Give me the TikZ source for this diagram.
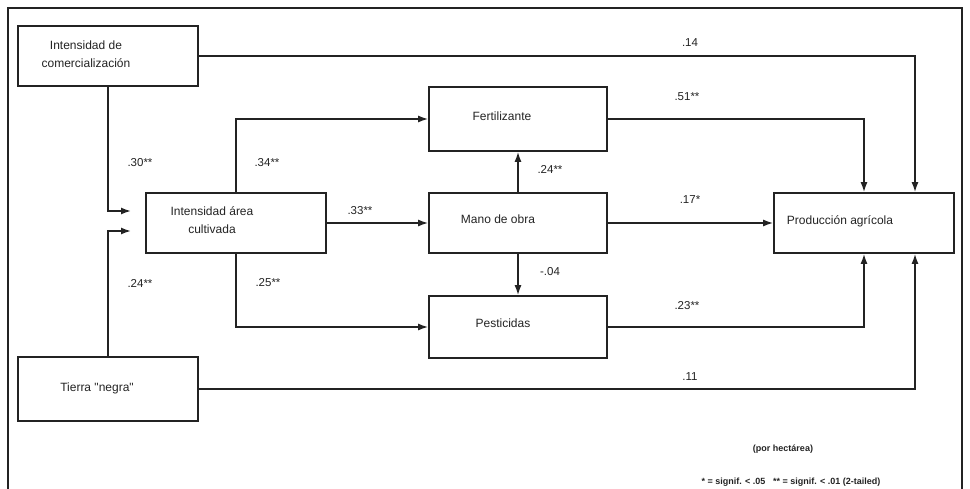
\documentclass[tikz,border=0pt]{standalone}
\usepackage{fontspec}
\setmainfont{Liberation Sans}[Ligatures=TeXOff]
\usetikzlibrary{arrows.meta}
\definecolor{ink}{RGB}{35,35,35}
\begin{document}
\begin{tikzpicture}[x=1pt,y=-1pt,
  box/.style={draw=ink,line width=1.6pt,minimum width=#1,inner sep=0pt},
  txt/.style={font=\fontsize{12}{18}\selectfont,text=ink,inner sep=0pt,align=center},
  coef/.style={font=\fontsize{11.5}{14}\selectfont,text=ink,inner sep=0pt},
  note/.style={font=\fontsize{9}{11}\bfseries\selectfont,text=ink,inner sep=0pt},
  arr/.style={draw=ink,line width=1.6pt,-{Latex[length=10pt,width=7pt]}},
  frame/.style={draw=ink,line width=2.4pt}]
\useasboundingbox (0,0) rectangle (970,489);
\draw[frame] (8,489) -- (8,8) -- (962,8) -- (962,489);
% boxes
\node[box=180pt,minimum height=60pt] (com) at (108,56) {};
\node[box=180pt,minimum height=60pt] (ia) at (236,223) {};
\node[box=178pt,minimum height=64pt] (fert) at (518,119) {};
\node[box=178pt,minimum height=60pt] (mano) at (518,223) {};
\node[box=178pt,minimum height=62pt] (pest) at (518,327) {};
\node[box=180pt,minimum height=64pt] (tierra) at (108,389) {};
\node[box=180pt,minimum height=60pt] (prod) at (864,223) {};
% texts
\node[txt] (tcom) at (86,54) {Intensidad de\\comercialización};
\node[txt] (tia) at (212,220.5) {Intensidad área\\cultivada};
\node[txt] (tfert) at (502,116) {Fertilizante};
\node[txt] (tmano) at (498,219) {Mano de obra};
\node[txt] (tpest) at (503,323) {Pesticidas};
\node[txt] (ttierra) at (97,388) {Tierra "negra"};
\node[txt] (tprod) at (840,221) {Producción agrícola};
% helper coordinates
\coordinate (c1) at (131,211);
\coordinate (c2) at (131,231);
% connectors
\draw[arr] (com.east) -| ([xshift=51pt]prod.north);
\draw[arr] (fert.east) -| (prod.north);
\draw[arr] (mano.east) -- (prod.west);
\draw[arr] (pest.east) -| (prod.south);
\draw[arr] (tierra.east) -| ([xshift=51pt]prod.south);
\draw[arr] (com.south) |- (c1);
\draw[arr] (tierra.north) |- (c2);
\draw[arr] (ia.north) |- (fert.west);
\draw[arr] (ia.south) |- (pest.west);
\draw[arr] (ia.east) -- (mano.west);
\draw[arr] (mano.north) -- (fert.south);
\draw[arr] (mano.south) -- (pest.north);
% coefficients
\node[coef] (k14) at (690,43) {.14};
\node[coef] (k51) at (687,97) {.51**};
\node[coef] (k24a) at (550,169) {.24**};
\node[coef] (k17) at (690,200) {.17*};
\node[coef] (k04) at (550,272) {-.04};
\node[coef] (k23) at (687,306) {.23**};
\node[coef] (k11) at (690,377) {.11};
\node[coef] (k30) at (140,163) {.30**};
\node[coef] (k34) at (267,163) {.34**};
\node[coef] (k33) at (360,211) {.33**};
\node[coef] (k24b) at (140,283) {.24**};
\node[coef] (k25) at (268,283) {.25**};
% notes
\node[note] (n1) at (783,449) {(por hectárea)};
\node[note] (n2) at (791,482) {* = signif. < .05\ \ \ ** = signif. < .01 (2-tailed)};
\end{tikzpicture}
\end{document}
